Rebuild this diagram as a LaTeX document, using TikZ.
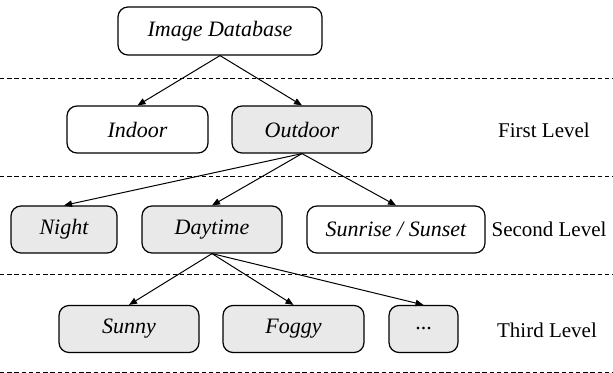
\documentclass[tikz,border=0pt]{standalone}
\usepackage{fontspec}
\setmainfont{Liberation Serif}
\usetikzlibrary{arrows.meta}

\begin{document}
\begin{tikzpicture}[x=0.5pt,y=-0.5pt,
  box/.style={draw,rounded corners=5pt,line width=0.6pt,minimum height=23.5pt,inner sep=0pt,font=\itshape\fontsize{11}{13}\selectfont},
  grey/.style={box,fill=gray!17},
  link/.style={line width=0.5pt,-{Triangle[length=4pt,width=3.2pt]}},
  lvl/.style={font=\fontsize{10.5}{12}\selectfont}]
\useasboundingbox (0,0) rectangle (613,373);
\foreach \y in {79,177,274,372}{\draw[line width=0.5pt,dash pattern=on 2.2pt off 1.4pt] (0,\y) -- (613,\y);}
\node[box,minimum width=102pt,minimum height=24pt] (db) at (220,31) {Image Database};
\node[box,minimum width=70.5pt] (indoor) at (137.5,129.5) {Indoor};
\node[grey,minimum width=70pt] (outdoor) at (302,129.5) {Outdoor};
\node[grey,minimum width=53pt] (night) at (64,229.5) {Night};
\node[grey,minimum width=70pt] (daytime) at (212,229.5) {Daytime};
\node[box,minimum width=89pt] (sunrise) at (396,229.5) {Sunrise / Sunset};
\node[grey,minimum width=70pt] (sunny) at (129,329) {Sunny};
\node[grey,minimum width=70.5pt] (foggy) at (293.5,329) {Foggy};
\node[grey,minimum width=34.5pt,font=\fontsize{11}{13}\selectfont] (dots) at (423.5,329) {...};
\node[lvl] (first) at (544,130) {First Level};
\node[lvl] (second) at (549,229.5) {Second Level};
\node[lvl] (third) at (547,330) {Third Level};
\foreach \a/\b in {db/indoor,db/outdoor,outdoor/night,outdoor/daytime,outdoor/sunrise,daytime/sunny,daytime/foggy,daytime/dots}
  {\draw[link] (\a.south) -- (\b.north);}
\end{tikzpicture}
\end{document}
